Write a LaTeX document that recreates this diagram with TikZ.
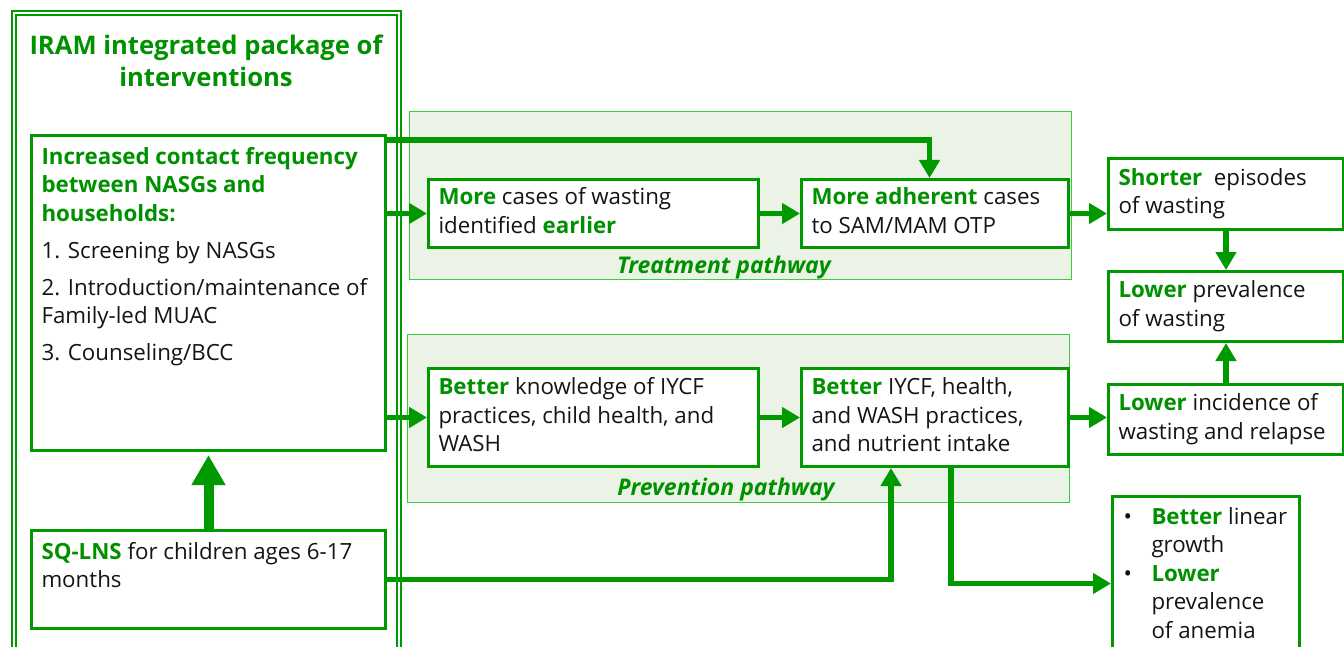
\documentclass[tikz,border=0pt]{standalone}
\usepackage{fontspec}
\setmainfont{Open Sans}
\usetikzlibrary{arrows.meta}
\definecolor{gline}{RGB}{0,153,0}
\definecolor{gtext}{RGB}{0,145,0}
\definecolor{pfill}{RGB}{235,242,230}
\definecolor{pborder}{RGB}{60,205,60}
\definecolor{ink}{RGB}{20,20,20}
\newcommand{\gb}[1]{\textbf{\textcolor{gtext}{#1}}}
\newcommand{\bodyfont}{\fontsize{22.3}{28.5}\selectfont}
\newcommand{\labelfont}{\fontsize{23}{28.5}\selectfont}
\newcommand{\titlefont}{\fontsize{25.6}{32}\selectfont\bfseries}
\begin{document}
\begin{tikzpicture}[x=1pt,y=-1pt,
  box/.style={draw=gline,line width=3pt,fill=white,inner xsep=10pt,inner ysep=0pt,
    anchor=north west,text=ink,font=\bodyfont},
  pathbox/.style={draw=pborder,line width=1.2pt,fill=pfill,anchor=north west,inner sep=0pt},
  frame/.style={draw=gline,line width=2pt,double=white,double distance=2pt,anchor=north west,inner sep=0pt},
  conn/.style={draw=gline,line width=5.5pt,-{Triangle[length=18pt,width=20pt]}},
  bigconn/.style={draw=gline,line width=10pt,-{Triangle[length=30pt,width=32pt]}},
  plabel/.style={text=gtext,font=\labelfont\bfseries\itshape,anchor=base,inner sep=0pt},
  ttl/.style={text=gtext,font=\titlefont,align=center,anchor=north,inner sep=0pt}]
\useasboundingbox (0,0) rectangle (1344,647);
% outer frame
\node[frame,minimum width=385pt,minimum height=700pt] (outer) at (12.5,12.5) {};
\node[ttl] (title) at (206,31.6) {\strut IRAM integrated package of\\interventions};
% pathways
\node[pathbox,minimum width=662pt,minimum height=168pt] (TP) at (409,111) {};
\node[pathbox,minimum width=662pt,minimum height=168pt] (PP) at (407,334) {};
\node[plabel] (TPl) at (724,273) {Treatment pathway};
\node[plabel] (PPl) at (726,495) {Prevention pathway};
% left boxes
\node[box] (A) at (30,134) {\parbox[c][315pt][t]{334pt}{\vspace*{9pt}\raggedright\strut
  \gb{Increased contact frequency}\\ \gb{between NASGs and}\\ \gb{households:}\\[8.5pt]
  1. Screening by NASGs\\[8.5pt]
  2. Introduction/maintenance of\\ Family-led MUAC\\[8.5pt]
  3. Counseling/BCC}};
\node[box] (SQ) at (30,529) {\parbox[c][98pt][t]{334pt}{\vspace*{9pt}\raggedright\strut
  \gb{SQ-LNS} for children ages 6-17\\ months}};
% pathway boxes
\node[box,minimum height=68pt] (T1) at (427,178) {\parbox{310pt}{\raggedright\strut\gb{More} cases of wasting\\ identified \gb{earlier}\strut}};
\node[box,minimum height=68pt] (T2) at (800,178) {\parbox{247pt}{\raggedright\strut\gb{More adherent} cases\\ to SAM/MAM OTP\strut}};
\node[box,minimum height=98pt] (P1) at (427,367) {\parbox{310pt}{\raggedright\strut\gb{Better} knowledge of IYCF\\ practices, child health, and\\ WASH\strut}};
\node[box,minimum height=98pt] (P2) at (800,367) {\parbox{247pt}{\raggedright\strut\gb{Better} IYCF, health,\\ and WASH practices,\\ and nutrient intake\strut}};
% right boxes
\node[box,minimum height=71pt] (R1) at (1107,157) {\parbox{215pt}{\raggedright\strut\gb{Shorter}\ \ episodes\\ of wasting\strut}};
\node[box,minimum height=70pt] (R2) at (1107,270) {\parbox{215pt}{\raggedright\strut\gb{Lower} prevalence\\ of wasting\strut}};
\node[box,minimum height=70pt] (R3) at (1107,383) {\parbox{215pt}{\raggedright\strut\gb{Lower} incidence of\\ wasting and relapse\strut}};
\node[box] (R4) at (1111,495) {\parbox[c][200pt][t]{167pt}{\vspace*{8pt}\raggedright\strut
  \makebox[29pt][l]{\hspace{1pt}\textbullet}\gb{Better} linear\\
  \hspace*{29pt}growth\\
  \makebox[29pt][l]{\hspace{1pt}\textbullet}\gb{Lower}\\
  \hspace*{29pt}prevalence\\
  \hspace*{29pt}of anemia}};
% connectors
\draw[bigconn,shorten >=3pt] (SQ.north) -- (A.south);
\draw[conn] (A.east |- T1.west) -- (T1.west);
\draw[conn] (A.east |- P1.west) -- (P1.west);
\draw[conn] ([yshift=-6pt]A.north east) -| ([xshift=-5.5pt]T2.north);
\draw[conn] (T1.east) -- (T2.west);
\draw[conn] (P1.east) -- (P2.west);
\draw[conn] (T2.east) -- (T2.east -| R1.west);
\draw[conn] (P2.east) -- (P2.east -| R3.west);
\draw[conn] (R1.south) -- (R2.north);
\draw[conn] (R3.north) -- (R2.south);
\draw[conn] (SQ.east) -| ([xshift=-44pt]P2.south);
\draw[conn] ([xshift=16pt]P2.south) |- ([yshift=-88.5pt]R4.north west);
\end{tikzpicture}
\end{document}
